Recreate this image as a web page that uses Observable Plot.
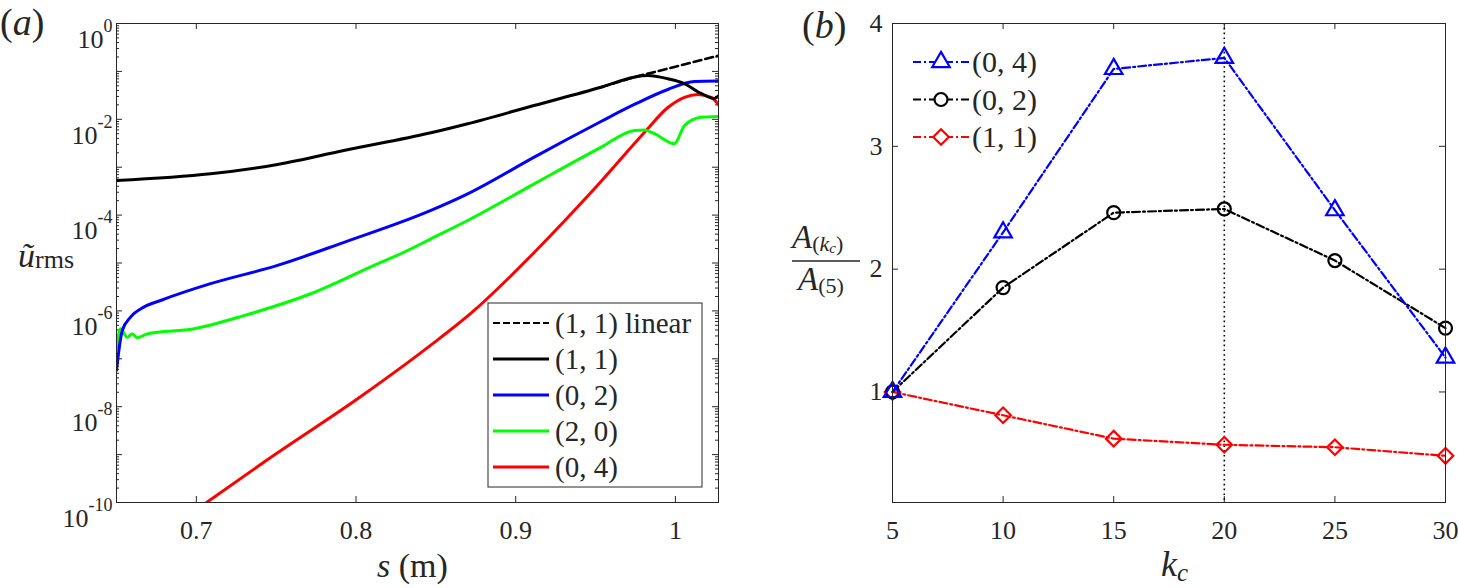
<!DOCTYPE html>
<html><head><meta charset="utf-8">
<script src="https://cdn.jsdelivr.net/npm/d3@7"></script>
<script src="https://cdn.jsdelivr.net/npm/@observablehq/plot@0.6"></script>
<style>
body{margin:0;background:#fff;width:1459px;height:588px;position:relative;overflow:hidden;font-family:'Liberation Serif',serif;}
#a,#b{position:absolute;top:0}
#a{left:0;width:760px} #b{left:760px;width:699px}
#ov{position:absolute;left:0;top:0;pointer-events:none}
</style></head><body>
<div id="a"></div><div id="b"></div>
<svg id="ov" width="1459" height="588" fill="#000"></svg>
<script>
// ---------- panel (a) data ----------
const sLin = [0.9534, 0.9741, 1.0, 1.0274];
const uLin = [4.68e-2, 7.57e-2, 0.1256, 0.215];
const s11 = [0.650,0.7089,0.7508,0.7923,0.8469,0.8699,0.9114,0.9534,0.9741,0.9827,0.9953,1.0055,1.0161,1.0243,1.0274];
const u11 = [5.27e-4,7.28e-4,1.14e-3,2.23e-3,5.22e-3,8.07e-3,1.94e-2,4.68e-2,7.57e-2,8.2e-2,7.0e-2,5.58e-2,3.46e-2,2.72e-2,3.14e-2];
const s02 = [0.650,0.6536,0.6588,0.6671,0.6776,0.7089,0.7508,0.7925,0.8469,0.8699,0.9116,0.9326,0.9534,0.9743,0.9953,1.0119,1.0274];
const u02 = [5.75e-8,3.89e-7,7.4e-7,1.2e-6,1.65e-6,3.7e-6,8.9e-6,2.7e-5,1.25e-4,2.77e-4,1.62e-3,3.88e-3,9.0e-3,2.04e-2,4.19e-2,6.15e-2,6.3e-2];
const s20 = [0.650,0.6525,0.6567,0.6598,0.663,0.6692,0.6985,0.7298,0.7716,0.8134,0.828,0.8469,0.8699,0.9116,0.9534,0.9743,0.9806,0.9869,0.9994,1.0057,1.0161,1.0274];
const u20 = [1.62e-7,4.24e-7,2.83e-7,3.3e-7,2.75e-7,3.3e-7,4.24e-7,7.96e-7,2.28e-6,9.6e-6,1.56e-5,3.2e-5,7.7e-5,4.5e-4,2.6e-3,5.86e-3,6.0e-3,5.0e-3,3.1e-3,7.4e-3,1.1e-2,1.15e-2];
const s04 = [0.7064,0.7447,0.803,0.845,0.874,0.8908,0.9116,0.9326,0.9534,0.9639,0.9817,0.9953,1.0057,1.0141,1.0224,1.0274];
const u04 = [1e-10,7.9e-10,1.63e-8,1.73e-7,1.02e-6,3.39e-6,1.66e-5,8.9e-5,5.0e-4,1.26e-3,5.86e-3,1.76e-2,2.88e-2,3.3e-2,2.88e-2,1.95e-2];
const sTicks = [0.7, 0.8, 0.9, 1.0];
const uLabelTicks = [1e-10, 1e-8, 1e-6, 1e-4, 1e-2, 1];
const uDecades = [1e-10,1e-9,1e-8,1e-7,1e-6,1e-5,1e-4,1e-3,1e-2,1e-1,1];
const legA = ["(1, 1) linear", "(1, 1)", "(0, 2)", "(2, 0)", "(0, 4)"];
const colA = ["#000", "#000", "#0000ff", "#00ff00", "#ff0000"];

// ---------- panel (b) data ----------
const kc = [5, 10, 15, 20, 25, 30];
const a04 = [1, 2.30, 3.63, 3.72, 2.48, 1.28];
const a02 = [1, 1.85, 2.46, 2.49, 2.07, 1.52];
const a11 = [1, 0.81, 0.62, 0.57, 0.55, 0.48];
const kTicks = [5, 10, 15, 20, 25, 30];
const aTicks = [1, 2, 3, 4];
const vline = [20];
const legB = ["(0, 4)", "(0, 2)", "(1, 1)"];
const colB = ["#0000ff", "#000", "#ff0000"];
const symB = ["triangle", "circle", "diamond2"];

const zip = (xs, ys) => xs.map((x, i) => ({x, y: ys[i]}));
const minorLog = uDecades.slice(0, -1).flatMap(d => [2,3,4,5,6,7,8,9].map(m => m * d));

const FF = "'Liberation Serif', serif";
const font = {fontFamily: FF, fontSize: "26px", color: "#262626", background: "white", overflow: "visible"};
const ax = "#262626";

// ---------- panel (a) ----------
const Wa = 760, H = 588, mTa = 23, mBa = 86, mLa = 116, mRa = 42;
const iwA = Wa - mLa - mRa, ih = H - mTa - mBa;
const plotA = Plot.plot({
  width: Wa, height: H, marginLeft: mLa, marginRight: mRa, marginTop: mTa, marginBottom: mBa,
  style: font,
  x: {domain: [0.65, 1.027]},
  y: {type: "log", domain: [1e-10, 1]},
  marks: [
    Plot.axisX(sTicks, {tickSize: 0, tickPadding: 18, tickFormat: d => String(d), label: null, fill: "#262626"}),
    Plot.axisY(uLabelTicks, {tickSize: 0, tickPadding: 4, tickFormat: d => String(Math.round(Math.log10(d))), label: null, fill: "#262626"}),
    Plot.tickX(sTicks, {x: d => d, insetTop: ih - 6, stroke: ax}),
    Plot.tickX(sTicks, {x: d => d, insetBottom: ih - 6, stroke: ax}),
    Plot.tickY(uDecades, {y: d => d, insetRight: iwA - 6, stroke: ax}),
    Plot.tickY(uDecades, {y: d => d, insetLeft: iwA - 6, stroke: ax}),
    Plot.tickY(minorLog, {y: d => d, insetRight: iwA - 3, stroke: ax}),
    Plot.tickY(minorLog, {y: d => d, insetLeft: iwA - 3, stroke: ax}),
    Plot.line(zip(s04, u04), {x: "x", y: "y", stroke: "#ff0000", strokeWidth: 3, curve: "monotone-x", clip: true}),
    Plot.line(zip(s20, u20), {x: "x", y: "y", stroke: "#00ff00", strokeWidth: 3, curve: "monotone-x", clip: true}),
    Plot.line(zip(s02, u02), {x: "x", y: "y", stroke: "#0000ff", strokeWidth: 3, curve: "monotone-x", clip: true}),
    Plot.line(zip(s11, u11), {x: "x", y: "y", stroke: "#000", strokeWidth: 3, curve: "monotone-x", clip: true}),
    Plot.line(zip(sLin, uLin), {x: "x", y: "y", stroke: "#000", strokeWidth: 2.6, strokeDasharray: "8,4", clip: true}),
    Plot.frame({stroke: ax})
  ]
});
document.getElementById("a").append(plotA);
d3.select(plotA).selectAll('g[aria-label="y-axis tick label"] text').each(function() {
  const e = this.textContent;
  const t = d3.select(this);
  t.text("10").attr("dy", 16);
  t.append("tspan").attr("dy", -16).attr("font-size", "18px").text(e);
});

// ---------- panel (b) ----------
const Wb = 699, mLb = 132, mRb = 14;
const iwB = Wb - mLb - mRb;
const dash = "8,3,2,3";
const plotB = Plot.plot({
  width: Wb, height: H, marginLeft: mLb, marginRight: mRb, marginTop: mTa, marginBottom: mBa,
  style: font,
  x: {domain: [5, 30]},
  y: {domain: [0.1, 4]},
  marks: [
    Plot.axisX(kTicks, {tickSize: 0, tickPadding: 18, tickFormat: d => String(d), label: null, fill: "#262626"}),
    Plot.axisY(aTicks, {tickSize: 0, tickPadding: 10, tickFormat: d => String(d), label: null, fill: "#262626"}),
    Plot.tickX(kTicks, {x: d => d, insetTop: ih - 6, stroke: ax}),
    Plot.tickX(kTicks, {x: d => d, insetBottom: ih - 6, stroke: ax}),
    Plot.tickY(aTicks, {y: d => d, insetRight: iwB - 6, stroke: ax}),
    Plot.tickY(aTicks, {y: d => d, insetLeft: iwB - 6, stroke: ax}),
    Plot.ruleX(vline, {x: d => d, stroke: "#000", strokeWidth: 1.6, strokeDasharray: "1.6,3.2"}),
    Plot.line(zip(kc, a11), {x: "x", y: "y", stroke: "#ff0000", strokeWidth: 2.2, strokeDasharray: dash}),
    Plot.dot(zip(kc, a11), {x: "x", y: "y", stroke: "#ff0000", strokeWidth: 2.2, fill: "none", symbol: "diamond2", r: 7}),
    Plot.line(zip(kc, a02), {x: "x", y: "y", stroke: "#000", strokeWidth: 2.2, strokeDasharray: dash}),
    Plot.dot(zip(kc, a02), {x: "x", y: "y", stroke: "#000", strokeWidth: 2.2, fill: "none", symbol: "circle", r: 6.5}),
    Plot.line(zip(kc, a04), {x: "x", y: "y", stroke: "#0000ff", strokeWidth: 2.2, strokeDasharray: dash}),
    Plot.dot(zip(kc, a04), {x: "x", y: "y", stroke: "#0000ff", strokeWidth: 2.2, fill: "none", symbol: "triangle", r: 6.5}),
    Plot.frame({stroke: ax})
  ]
});
document.getElementById("b").append(plotB);

// ---------- overlay: panel letters, axis titles, legends ----------
const ov = d3.select("#ov");
function label(x, y, size, parts) {
  const t = ov.append("text").attr("x", x).attr("y", y).attr("font-size", size).attr("fill", "#262626");
  parts.forEach(p => {
    const s = t.append("tspan").text(p.t);
    if (p.i) s.attr("font-style", "italic");
    if (p.s) s.attr("font-size", p.s);
    if (p.dy) s.attr("dy", p.dy);
  });
  return t;
}
label(0, 35, 38, [{t: "("}, {t: "a", i: 1}, {t: ")"}]);
label(802, 38, 38, [{t: "("}, {t: "b", i: 1}, {t: ")"}]);
label(18, 267, 34, [{t: "ũ", i: 1}, {t: "rms", s: 26, dy: 1}]);
label(377, 577, 34, [{t: "s", i: 1}, {t: " (m)"}]);
label(1161, 576, 36, [{t: "k", i: 1}, {t: "c", i: 1, s: 25, dy: 5}]);
label(792, 248, 33, [{t: "A", i: 1}, {t: "(", s: 22, dy: 3}, {t: "k", i: 1, s: 22}, {t: "c", i: 1, s: 15, dy: 2}, {t: ")", s: 22, dy: -2}]);
ov.append("line").attr("x1", 792).attr("x2", 860).attr("y1", 261).attr("y2", 261).attr("stroke", "#262626").attr("stroke-width", 1.3);
label(798, 290, 33, [{t: "A", i: 1}, {t: "(5)", s: 22, dy: 3}]);

// legend (a)
ov.append("rect").attr("x", 488).attr("y", 303).attr("width", 214).attr("height", 184).attr("fill", "#fff").attr("stroke", "#262626").attr("stroke-width", 1);
legA.forEach((name, i) => {
  const y = 323 + i * 36;
  ov.append("line").attr("x1", 493).attr("x2", 549).attr("y1", y).attr("y2", y)
    .attr("stroke", colA[i]).attr("stroke-width", i === 0 ? 2 : 3).attr("stroke-dasharray", i === 0 ? "7,3" : null);
  label(555, y + 10, 29, [{t: name}]);
});
// legend (b)
const symMap = {triangle: [d3.symbolTriangle, Math.PI * 6.5 * 6.5], circle: [d3.symbolCircle, Math.PI * 6.5 * 6.5], diamond2: [d3.symbolDiamond2, Math.PI * 7 * 7]};
legB.forEach((name, i) => {
  const y = 62 + i * 37.5;
  ov.append("line").attr("x1", 913).attr("x2", 970).attr("y1", y).attr("y2", y)
    .attr("stroke", colB[i]).attr("stroke-width", 2.2).attr("stroke-dasharray", "8,3,2,3");
  const [type, size] = symMap[symB[i]];
  ov.append("path").attr("d", d3.symbol(type, size)()).attr("transform", `translate(941,${y})`)
    .attr("fill", "#fff").attr("stroke", colB[i]).attr("stroke-width", 2.2);
  label(972, y + 10, 30, [{t: name}]);
});

// force the serif face on every text element
d3.selectAll("svg text, svg tspan").style("font-family", FF);
</script>
</body></html>
